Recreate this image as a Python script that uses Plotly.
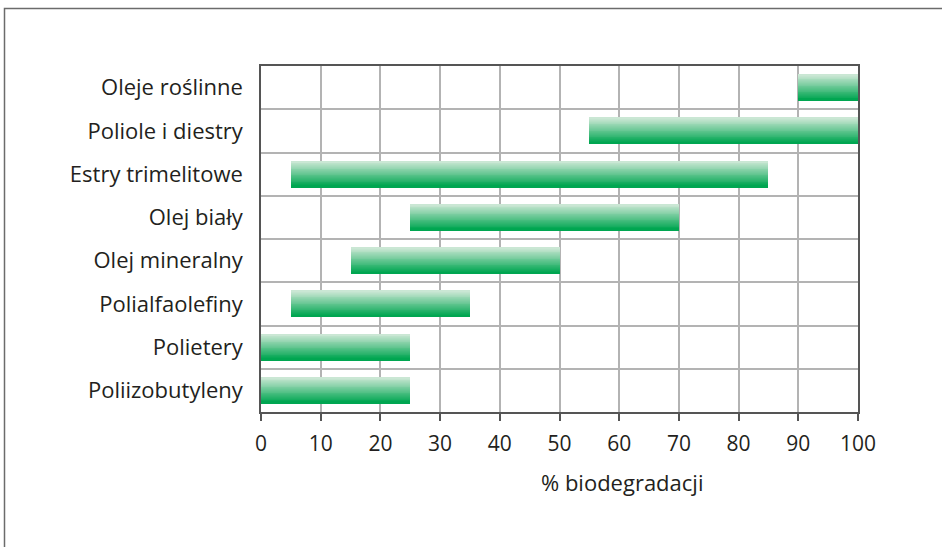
import plotly.graph_objects as go

# Biodegradability ranges of lubricant base oils (% biodegradation)
categories = ["Poliizobutyleny", "Polietery", "Polialfaolefiny", "Olej mineralny",
              "Olej biały", "Estry trimelitowe", "Poliole i diestry", "Oleje roślinne"]
range_start = [0, 0, 5, 15, 25, 5, 55, 90]
range_end = [25, 25, 35, 50, 70, 85, 100, 100]
x_ticks = [0, 10, 20, 30, 40, 50, 60, 70, 80, 90, 100]

lengths = [e - s for s, e in zip(range_start, range_end)]

BAR_W = 0.6
N_SLICES = 30
dark = (0, 166, 81)
light = (206, 232, 214)


def mix(t):
    # t = 0 at bottom edge (solid green), 1 at top edge (pale)
    t = min(1.0, max(0.0, (t - 0.08) / 0.92))
    return "rgb(%d,%d,%d)" % tuple(round(d + (l - d) * t) for d, l in zip(dark, light))


fig = go.Figure()
step = BAR_W / N_SLICES
for i in range(N_SLICES):
    fig.add_trace(go.Bar(
        y=categories, x=lengths, base=range_start, orientation="h",
        width=step * 1.08, offset=-BAR_W / 2 + i * step,
        marker=dict(color=mix((i + 0.5) / N_SLICES), line=dict(width=0)),
        showlegend=False, hoverinfo="skip",
    ))

font_family = "Open Sans, Noto Sans, sans-serif"
text_color = "#231f20"
frame_color = "#555555"
grid_color = "#b3b3b3"

W, H = 942, 547
ml, mr, mt, mb = 261, 84, 66, 135
pw, ph = W - ml - mr, H - mt - mb

fig.update_layout(
    width=W, height=H,
    margin=dict(l=ml, r=mr, t=mt, b=mb),
    paper_bgcolor="white", plot_bgcolor="white",
    barmode="overlay", bargap=0,
    font=dict(family=font_family, size=21, color=text_color),
    xaxis=dict(
        range=[0, 100], tickvals=x_ticks, ticktext=[str(v) for v in x_ticks],
        showgrid=True, gridcolor=grid_color, gridwidth=1.5,
        showline=True, linecolor=frame_color, linewidth=1.5, mirror=True,
        ticks="outside", ticklen=7, tickcolor=frame_color, tickwidth=1.5,
        ticklabelstandoff=5, tickfont=dict(size=21),
        zeroline=False, fixedrange=True,
    ),
    yaxis=dict(
        type="category", categoryorder="array", categoryarray=categories,
        tickson="boundaries", ticks="",
        showgrid=True, gridcolor=grid_color, gridwidth=1.5,
        showline=True, linecolor=frame_color, linewidth=1.5, mirror=True,
        ticklabelstandoff=12, tickfont=dict(size=22),
        zeroline=False, fixedrange=True,
    ),
    annotations=[dict(
        text="% biodegradacji", xref="paper", yref="paper",
        x=(622 - ml) / pw, y=-(482 - mt - ph) / ph,
        xanchor="center", yanchor="middle", showarrow=False,
        font=dict(family=font_family, size=22, color=text_color),
    )],
    shapes=[dict(
        type="path", xref="paper", yref="paper",
        path="M %f %f L %f %f L %f %f" % (
            (4.5 - ml) / pw, -(H + 5 - mt - ph) / ph,
            (4.5 - ml) / pw, (mt + ph - 8.5) / ph,
            (W + 5 - ml) / pw, (mt + ph - 8.5) / ph,
        ),
        line=dict(color="#6b6b6b", width=1.5),
    )],
)

fig.write_html("out.html")
